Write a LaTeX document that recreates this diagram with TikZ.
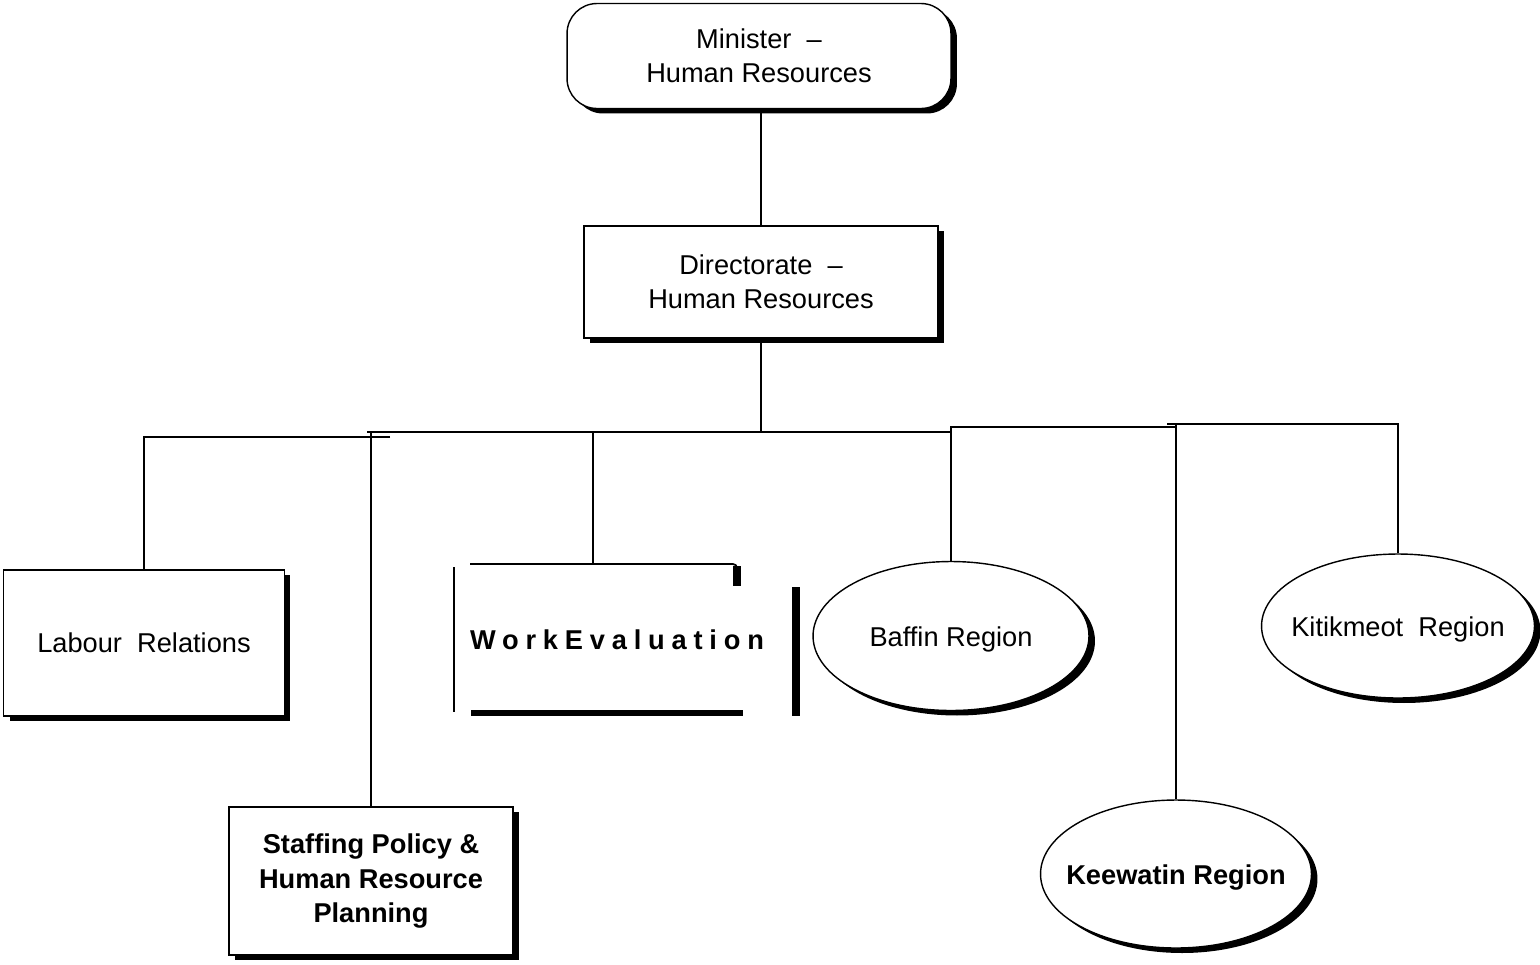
\documentclass[tikz,border=0pt]{standalone}
\usepackage{fontspec}
\setmainfont{Liberation Sans}
\usetikzlibrary{shapes.geometric, shadows, calc}

\tikzset{
  every node/.style={font=\fontsize{15.5}{19.5}\selectfont, align=center, inner sep=0pt},
  solid shadow/.style={drop shadow={shadow xshift=0.12cm, shadow yshift=-0.1cm,
                                    fill=black, opacity=1}},
  orgbox/.style={draw=black, line width=0.8pt, fill=white, solid shadow},
  region/.style={orgbox, ellipse, text height=15pt, text depth=3.5pt},
  link/.style={line width=1pt},
  heavy/.style={line width=0.13cm},
}
% zero-width text so the ellipse keeps its own size
\newcommand{\regname}[1]{\makebox[0pt]{#1}}

\begin{document}
\begin{tikzpicture}[x=0.02cm, y=-0.02cm]
  \useasboundingbox (0,0) rectangle (1540,964);

  % top of the chart
  \node[orgbox, rounded corners=0.6cm, minimum width=7.68cm, minimum height=2.1cm]
    (min) at (759,56) {Minister\ \ --\\Human Resources};
  \node[orgbox, minimum width=7.08cm, minimum height=2.24cm]
    (dir) at (761,282) {Directorate\ \ --\\Human Resources};

  % branches
  \node[orgbox, minimum width=5.62cm, minimum height=2.92cm]
    (labour) at (144,643) {Labour\ \ Relations};
  \node[orgbox, minimum width=5.68cm, minimum height=2.96cm, font=\fontsize{15.5}{19.5}\selectfont\bfseries]
    (staff) at (371,881) {Staffing Policy \&\\Human Resource\\Planning};
  \node (workev) at (617,640)
    {\bfseries\addfontfeature{LetterSpace=25}WorkEvaluation};
  \node[region, minimum width=5.52cm, minimum height=2.98cm]
    (baffin) at (951,636) {\regname{Baffin Region}};
  \node[region, minimum width=5.46cm, minimum height=2.88cm]
    (kitik) at (1398,626) {\regname{Kitikmeot\ \ Region}};
  \node[region, minimum width=5.42cm, minimum height=2.96cm, font=\fontsize{15.5}{19.5}\selectfont\bfseries]
    (keew) at (1176,874) {\regname{Keewatin Region}};

  % broken frame round Work Evaluation
  \draw[link] (454,567) -- (454,712);
  \draw[link, rounded corners=0.08cm] (470,564) -- (737,564) -- (737,572);
  \draw[heavy, line width=0.16cm] (737,566) -- (737,586);
  \draw[heavy] (471,713) -- (743,713);
  \draw[heavy, line width=0.17cm] (796,587) -- (796,716);

  % bus coordinates
  \coordinate (busW) at (367,432);
  \coordinate (busE) at (951,432);
  \coordinate (lrEnd) at (390,437);
  \coordinate (regA) at (1177,427);
  \coordinate (regB) at (1167,424);

  % connectors
  \draw[link] (dir.north) -- (dir.north |- min.south);
  \draw[link] (dir.south) -- (dir.south |- busW);
  \draw[link] (busW) -- (busE);
  \draw[link] (lrEnd) -- (lrEnd -| labour.north) -- (labour.north);
  \draw[link] (staff.north) -- (staff.north |- busW);
  \draw[link] ([xshift=-0.48cm]workev.north |- busW) -- (593,563);
  \draw[link] (busE) -- (busE |- regA) -- (regA);
  \draw[link] (baffin.north) -- (baffin.north |- regA);
  \draw[link] (regB) -- (regB -| kitik.north) -- (kitik.north);
  \draw[link] (keew.north) -- (keew.north |- regB);
\end{tikzpicture}
\end{document}
